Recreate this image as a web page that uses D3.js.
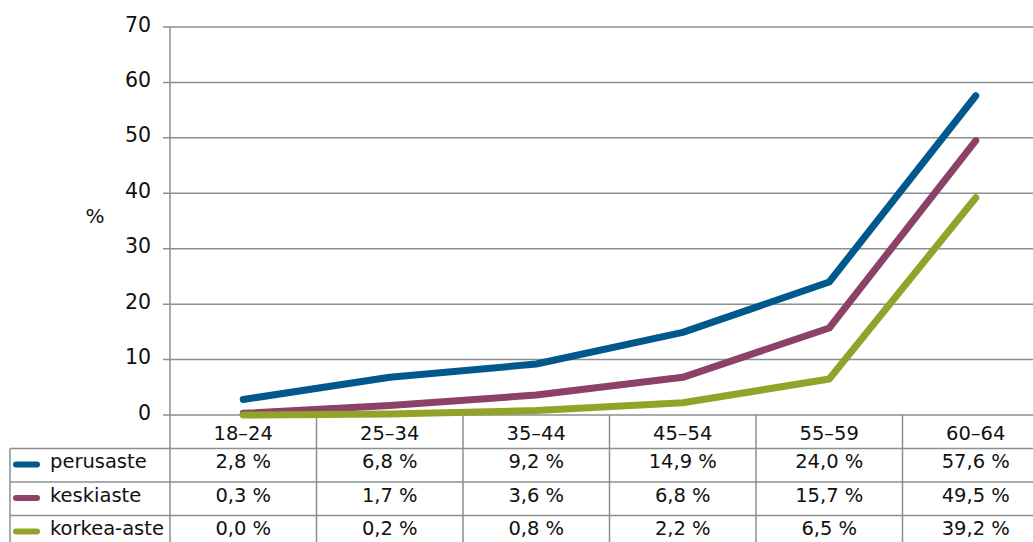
<!DOCTYPE html>
<html><head><meta charset="utf-8">
<script src="https://cdn.jsdelivr.net/npm/d3@7"></script>
<style>body{margin:0;background:#fff}svg{display:block}text{font-family:"DejaVu Sans",sans-serif;fill:#111}</style>
</head><body><svg id="c" width="1033" height="542"></svg>
<script>
const categories = ["18–24","25–34","35–44","45–54","55–59","60–64"];
const seriesNames = ["perusaste","keskiaste","korkea-aste"];
const perusaste = [2.8,6.8,9.2,14.9,24.0,57.6];
const keskiaste = [0.3,1.7,3.6,6.8,15.7,49.5];
const korkeaAste = [0.0,0.2,0.8,2.2,6.5,39.2];
const yTicks = [0,10,20,30,40,50,60,70];
const colors = ["#00588c","#8c4169","#93a32a"];
const values = [perusaste,keskiaste,korkeaAste];

(function(){
const svg = d3.select("#c");
const pLeft = 170, pRight = 1049, pTop = 27, pBottom = 415;
const rowH = 33.5, tableLeft = 10;
const grid = "#8a8f8f";
const fs = 19.5;

const x = d3.scaleBand().domain(categories).range([pLeft,pRight]);
const y = d3.scaleLinear().domain([0,70]).range([pBottom,pTop]);

svg.append("g").selectAll("line").data(yTicks).join("line")
  .attr("x1",pLeft-7).attr("x2",pRight).attr("y1",d=>y(d)).attr("y2",d=>y(d))
  .attr("stroke",grid).attr("stroke-width",1.5);
svg.append("g").selectAll("text").data(yTicks).join("text")
  .attr("x",151).attr("y",d=>y(d)+4.5).attr("text-anchor","end")
  .attr("font-size",20.5).text(d=>d);
svg.append("text").attr("x",95).attr("y",223).attr("text-anchor","middle")
  .attr("font-size",20).text("%");

const tableBottom = pBottom + rowH*4;
svg.append("line").attr("x1",pLeft).attr("x2",pLeft).attr("y1",pTop).attr("y2",tableBottom)
  .attr("stroke",grid).attr("stroke-width",1.5);
svg.append("g").selectAll("line").data(categories.slice(1)).join("line")
  .attr("x1",d=>x(d)).attr("x2",d=>x(d)).attr("y1",pBottom).attr("y2",tableBottom)
  .attr("stroke",grid).attr("stroke-width",1.5);
svg.append("line").attr("x1",tableLeft).attr("x2",tableLeft).attr("y1",pBottom+rowH).attr("y2",tableBottom)
  .attr("stroke",grid).attr("stroke-width",1.5);
svg.append("g").selectAll("line").data([1,2,3,4]).join("line")
  .attr("x1",tableLeft).attr("x2",pRight).attr("y1",d=>pBottom+rowH*d).attr("y2",d=>pBottom+rowH*d)
  .attr("stroke",grid).attr("stroke-width",1.5);
svg.append("g").selectAll("text").data(categories).join("text")
  .attr("x",d=>x(d)+x.bandwidth()/2).attr("y",440).attr("text-anchor","middle")
  .attr("font-size",fs).text(d=>d);
const fmt = v => v.toFixed(1).replace(".",",")+" %";
seriesNames.forEach((name,i)=>{
  const rowTop = pBottom + rowH*(i+1);
  const base = rowTop + 19.5;
  const ly = rowTop + 16;
  svg.append("line").attr("x1",16).attr("x2",37).attr("y1",ly).attr("y2",ly)
    .attr("stroke",colors[i]).attr("stroke-width",6).attr("stroke-linecap","round");
  svg.append("text").attr("x",50).attr("y",base).attr("font-size",fs).text(name);
  svg.append("g").selectAll("text").data(values[i]).join("text")
    .attr("x",(d,j)=>x(categories[j])+x.bandwidth()/2).attr("y",base)
    .attr("text-anchor","middle").attr("font-size",fs).text(fmt);
});

const line = d3.line().x((d,j)=>x(categories[j])+x.bandwidth()/2).y(d=>y(d));
values.forEach((vals,i)=>{
  svg.append("path").datum(vals).attr("d",line).attr("fill","none")
    .attr("stroke",colors[i]).attr("stroke-width",7)
    .attr("stroke-linecap","round").attr("stroke-linejoin","round");
});
})();
</script></body></html>
